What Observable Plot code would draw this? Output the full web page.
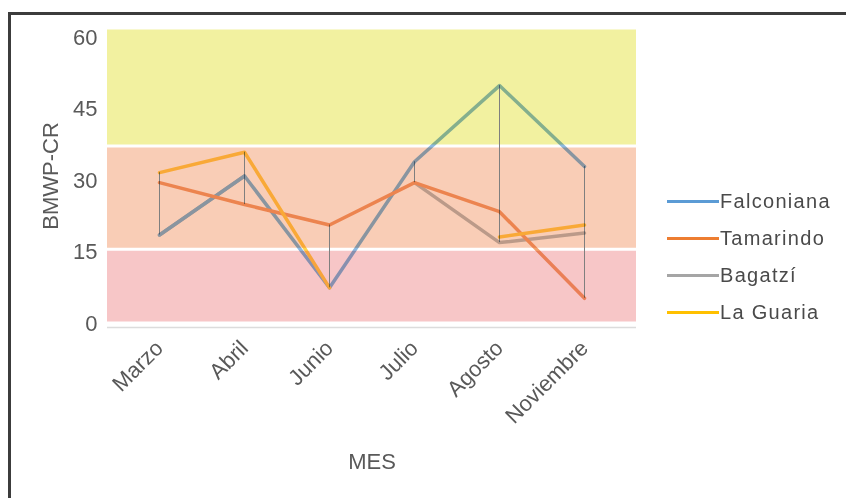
<!DOCTYPE html>
<html><head><meta charset="utf-8">
<script src="https://cdn.jsdelivr.net/npm/d3@7"></script>
<script src="https://cdn.jsdelivr.net/npm/@observablehq/plot@0.6"></script>
<style>
html,body{margin:0;padding:0;background:#fff;overflow:hidden;width:846px;height:498px;}
#frame{position:absolute;left:8px;top:12px;width:900px;height:600px;border-left:3px solid #3c3c3c;border-top:3px solid #3c3c3c;}
#chart{position:absolute;left:0;top:0;}
#legend{position:absolute;left:667px;top:183px;font-family:"Liberation Sans",Arial,sans-serif;font-size:20px;color:#4a4a4a;}
.item{display:flex;align-items:center;height:37px;}
.sw{width:52px;height:3px;margin-right:1px;}
.lab{letter-spacing:1.3px;}
</style></head><body>
<div id="frame"></div><div id="chart"></div><div id="legend"></div>
<script>
// Categories
const meses = ["Marzo", "Abril", "Junio", "Julio", "Agosto", "Noviembre"];
// Series
const series = ["Falconiana", "Tamarindo", "Bagatzí", "La Guaria"];
const falconiana = [18.6, 31, 7.5, 34, 50, 33];
const tamarindo = [29.6, 25, 20.7, 29.6, 23.5, 5.3];
const bagatzi = [18.6, 31, null, 29.6, 17, 19];
const laGuaria = [31.7, 36, 7.5, null, 18.2, 20.7];
// Y ticks
const yTicks = [0, 15, 30, 45, 60];
// Quality class bands (BMWP-CR)
const bandLo = [0, 15.5, 37.2];
const bandHi = [15.5, 37.2, 62];

// Styles
const seriesColor = {"Falconiana": "#5b9bd5", "Tamarindo": "#ed7d31", "Bagatzí": "#a5a5a5", "La Guaria": "#ffc000"};
const bandColor = ["#f7c6c7", "#f9cdb6", "#f2f1a0"];
const drawOrder = ["Bagatzí", "Falconiana", "Tamarindo", "La Guaria"];

const values = {"Falconiana": falconiana, "Tamarindo": tamarindo, "Bagatzí": bagatzi, "La Guaria": laGuaria};
const rows = [];
drawOrder.forEach(s => meses.forEach((m, j) => rows.push({serie: s, mes: m, value: values[s][j]})));
const defined = rows.filter(d => d.value != null);
const bands = bandLo.map((lo, i) => ({lo, hi: bandHi[i], color: bandColor[i]}));

const chart = Plot.plot({
  width: 846, height: 498,
  marginLeft: 107, marginRight: 210, marginTop: 28, marginBottom: 175,
  style: {fontFamily: "Liberation Sans, Arial, sans-serif", fontSize: "22px", color: "#595959", background: "transparent"},
  color: {type: "identity"},
  x: {type: "point", domain: meses, padding: 0.61, label: "MES", labelAnchor: "center", labelOffset: 145,
      tickRotate: -45, tickSize: 0, tickPadding: 21},
  y: {domain: [0, 62], ticks: yTicks, tickSize: 0, tickPadding: 10, label: "BMWP-CR",
      labelAnchor: "center", labelOffset: 65, labelArrow: "none"},
  marks: [
    Plot.rect(bands, {y1: "lo", y2: "hi", fill: "color", insetTop: 1.5, insetBottom: 1.5}),
    Plot.ruleY([0], {stroke: "#dcdcdc", dy: 4, strokeWidth: 1.5}),
    Plot.ruleX(defined, Plot.groupX({y1: "min", y2: "max"}, {x: "mes", y1: "value", y2: "value", stroke: "#7f7f7f", strokeWidth: 1})),
    Plot.line(rows, {x: "mes", y: "value", z: "serie", stroke: d => seriesColor[d.serie], strokeWidth: 3.5})
  ]
});
const lineGroup = chart.querySelector('g[aria-label="line"]');
if (lineGroup) {
  lineGroup.style.opacity = 0.7;
  lineGroup.style.mixBlendMode = "multiply";
}
document.getElementById("chart").appendChild(chart);

const legend = document.getElementById("legend");
series.forEach(s => {
  const it = document.createElement("div");
  it.className = "item";
  const sw = document.createElement("div");
  sw.className = "sw";
  sw.style.background = seriesColor[s];
  const lab = document.createElement("span");
  lab.className = "lab";
  lab.textContent = s;
  it.appendChild(sw); it.appendChild(lab);
  legend.appendChild(it);
});
</script>
</body></html>
